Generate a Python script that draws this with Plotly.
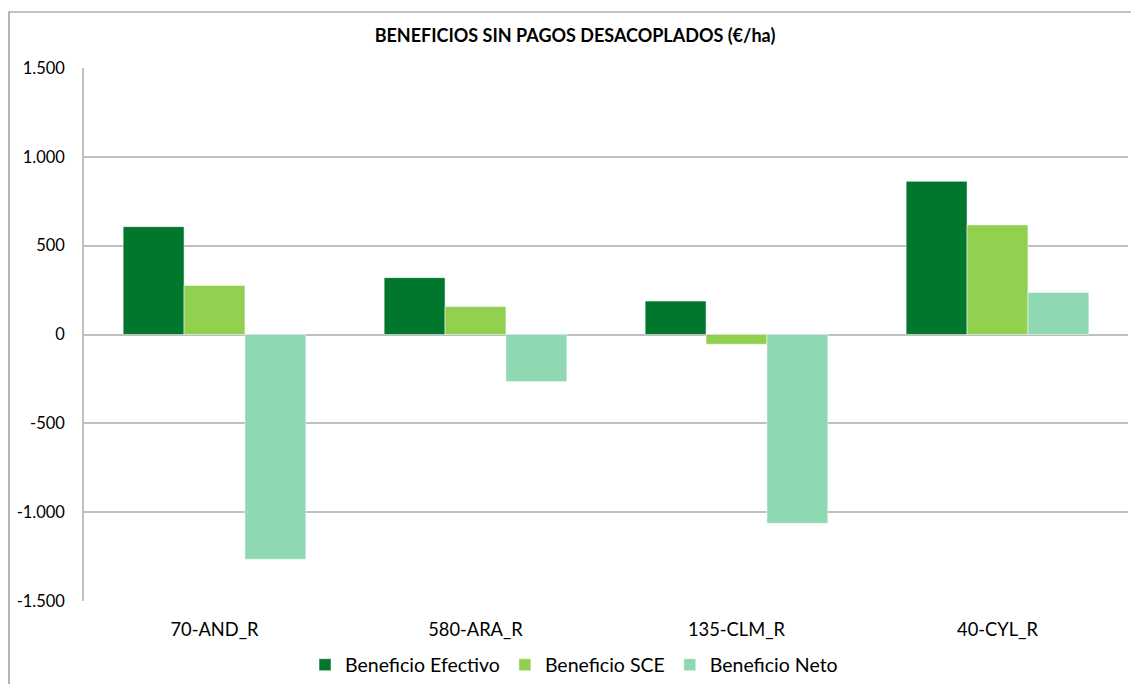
import plotly.graph_objects as go

categories = ["70-AND_R", "580-ARA_R", "135-CLM_R", "40-CYL_R"]
efectivo = [607, 320, 188, 862]
sce = [276, 157, -55, 617]
neto = [-1265, -265, -1063, 237]

W, H = 1131, 684
L, R, T, B = 84, 3, 68, 83
pw, ph = W - L - R, H - T - B

fig = go.Figure()
series = [("Beneficio Efectivo", efectivo, "#00772D"),
          ("Beneficio SCE", sce, "#92D050"),
          ("Beneficio Neto", neto, "#8ED9B1")]
for name, vals, col in series:
    fig.add_trace(go.Bar(x=categories, y=vals, name=name, marker_color=col,
                         marker_line=dict(color="rgba(255,255,255,0.5)", width=1)))

fig.update_layout(
    width=W, height=H,
    margin=dict(l=L, r=R, t=T, b=B, autoexpand=False),
    paper_bgcolor="white", plot_bgcolor="white",
    barmode="group", bargap=0.30, bargroupgap=0,
    font=dict(family="Lato, Open Sans, sans-serif", size=18, color="#000000"),
    title=dict(text="<b>BENEFICIOS SIN PAGOS DESACOPLADOS (€/ha)</b>",
               x=575 / W, xanchor="center", xref="container",
               y=1 - 36 / H, yanchor="middle",
               font=dict(size=18, color="#000000")),
    legend=dict(orientation="h", x=(580 - 6 - L) / pw, xanchor="center", y=-(665 - 601) / ph,
                yanchor="middle", font=dict(size=19.5), itemwidth=30, traceorder="normal"),
    xaxis=dict(showgrid=False, showline=False, ticks="", tickfont=dict(size=18.3),
               ticklabelstandoff=16, automargin=False),
    yaxis=dict(range=[-1500, 1500], tickvals=[-1500, -1000, -500, 0, 500, 1000, 1500],
               ticktext=["-1.500", "-1.000", "-500", "0", "500", "1.000", "1.500"],
               showgrid=True, gridcolor="#BFBFBF", gridwidth=1.5,
               zeroline=True, zerolinecolor="#BFBFBF", zerolinewidth=1.5,
               showline=True, linecolor="#BFBFBF", linewidth=1.5,
               ticks="", ticklabelstandoff=14, tickfont=dict(size=16.5), automargin=False),
)

# outer chart border (extends beyond the right and bottom of the view)
fig.add_shape(type="rect", xref="paper", yref="paper",
              x0=(9 - L) / pw, x1=(W + 10 - L) / pw,
              y0=-(H + 10 - T - ph) / ph, y1=1 + (T - 12) / ph,
              line=dict(color="#868686", width=1.2), fillcolor="rgba(0,0,0,0)", layer="below")

fig.write_html("out.html", config={"displayModeBar": False},
               post_script="document.body.style.margin='0';document.body.style.overflow='hidden';")
